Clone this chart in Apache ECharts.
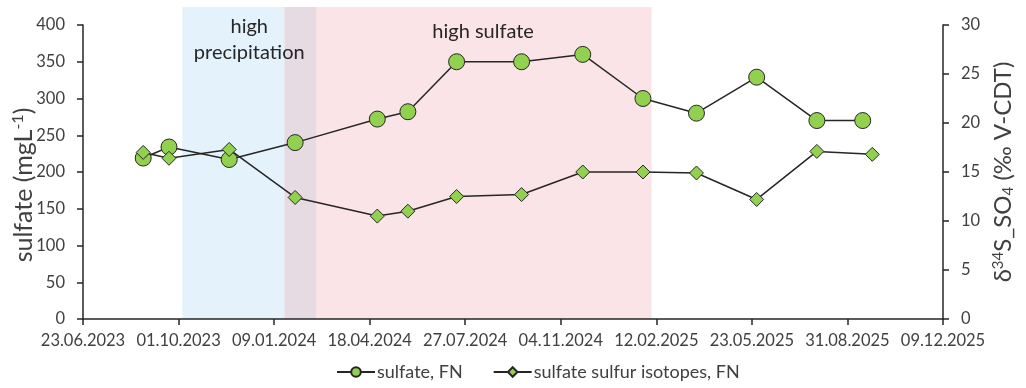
<!DOCTYPE html>
<html>
<head>
<meta charset="utf-8">
<script src="https://cdn.jsdelivr.net/npm/echarts@6/dist/echarts.min.js"></script>
<style>
  html, body { margin: 0; padding: 0; background: #fff; }
  #chart { width: 1026px; height: 388px; }
</style>
</head>
<body>
<div id="chart"></div>
<script>
// x axis: dates, ticks every 100 days starting 23.06.2023
const axisStart = '2023-06-23';
const axisDays = 900;
const tickStep = 100;

const sulfateDates = ['2023-08-25', '2023-09-21', '2023-11-23', '2024-01-31', '2024-04-26', '2024-05-28', '2024-07-18',
    '2024-09-24', '2024-11-27', '2025-01-29', '2025-03-26', '2025-05-28', '2025-07-30', '2025-09-16'];
const sulfateValues = [219, 234, 217, 240, 272, 282, 350, 350, 360, 300, 280, 329, 270, 270];

const isotopeDates = ['2023-08-25', '2023-09-21', '2023-11-23', '2024-01-31', '2024-04-26', '2024-05-28', '2024-07-18',
    '2024-09-24', '2024-11-27', '2025-01-29', '2025-03-26', '2025-05-28', '2025-07-30', '2025-09-26'];
const isotopeValues = [17.0, 16.4, 17.3, 12.4, 10.5, 11.0, 12.5, 12.7, 15.0, 15.0, 14.9, 12.2, 17.1, 16.8];

// shaded periods
const precipPeriod = ['2023-10-05', '2024-02-22'];
const overlapPeriod = ['2024-01-20', '2024-02-22'];
const sulfatePeriod = ['2024-01-20', '2025-02-07'];

const DAY = 86400000;
const toMs = s => {
    const p = s.split('-').map(Number);
    return Date.UTC(p[0], p[1] - 1, p[2]);
};
const startMs = toMs(axisStart);
const toDay = s => (toMs(s) - startMs) / DAY;
const fmtDay = v => {
    const d = new Date(startMs + v * DAY);
    const pad = n => String(n).padStart(2, '0');
    return pad(d.getUTCDate()) + '.' + pad(d.getUTCMonth() + 1) + '.' + d.getUTCFullYear();
};

const font = 'Lato';
const textColor = '#404040';
const green = '#92D050';
const dark = '#262626';

const myChart = echarts.init(document.getElementById('chart'));

const xCommon = {
    type: 'value',
    min: 0,
    max: axisDays,
    interval: tickStep,
};

myChart.setOption({
    animation: false,
    textStyle: {fontFamily: font, color: textColor},
    grid: [
        {left: 83, right: 83, top: 25, bottom: 69, outerBoundsMode: 'none', containLabel: false},
        {left: 83, right: 83, top: 7, bottom: 69, outerBoundsMode: 'none', containLabel: false}
    ],
    legend: {
        left: 331,
        bottom: 2,
        itemWidth: 38,
        itemHeight: 12,
        itemGap: 30,
        data: ['sulfate, FN', 'sulfate sulfur isotopes, FN'],
        textStyle: {fontFamily: font, fontSize: 18, color: textColor, padding: [0, 0, 0, -3]}
    },
    xAxis: [
        Object.assign({}, xCommon, {
            gridIndex: 0,
            z: 5,
            splitLine: {show: false},
            axisLine: {lineStyle: {color: dark, width: 1.5}},
            axisTick: {show: true, length: 6, lineStyle: {color: dark, width: 1.5}},
            axisLabel: {
                fontFamily: font, fontSize: 16.5, color: textColor, margin: 13,
                formatter: v => fmtDay(v)
            }
        }),
        Object.assign({}, xCommon, {
            gridIndex: 1,
            show: false
        })
    ],
    yAxis: [
        {
            type: 'value', gridIndex: 0, min: 0, max: 400, interval: 50, z: 5,
            position: 'left',
            name: 'sulfate (mgL{sup|-1})',
            nameLocation: 'middle',
            nameRotate: 90,
            nameGap: 46,
            nameMoveOverlap: false,
            nameTextStyle: {
                fontFamily: font, fontSize: 25, color: textColor, padding: [0, 26, 0, 0],
                rich: {sup: {fontFamily: font, fontSize: 16, color: textColor, verticalAlign: 'top', padding: [0, 0, 11, 0]}}
            },
            splitLine: {show: false},
            axisLine: {show: true, lineStyle: {color: dark, width: 1.5}},
            axisTick: {show: true, length: 6, lineStyle: {color: dark, width: 1.5}},
            axisLabel: {fontFamily: font, fontSize: 16.5, color: textColor, margin: 18}
        },
        {
            type: 'value', gridIndex: 0, min: 0, max: 30, interval: 5, z: 5,
            position: 'right',
            name: 'δ{sup|34}S_SO{sub|4} (‰ V-CDT)',
            nameLocation: 'middle',
            nameRotate: 90,
            nameGap: 48,
            nameTextStyle: {
                fontFamily: font, fontSize: 24, color: textColor,
                rich: {
                    sup: {fontFamily: font, fontSize: 15, color: textColor, verticalAlign: 'top', padding: [0, 0, 10, 0]},
                    sub: {fontFamily: font, fontSize: 15, color: textColor, verticalAlign: 'bottom', padding: [10, 0, 0, 0]}
                }
            },
            splitLine: {show: false},
            axisLine: {show: true, lineStyle: {color: dark, width: 1.5}},
            axisTick: {show: true, length: 6, lineStyle: {color: dark, width: 1.5}},
            axisLabel: {fontFamily: font, fontSize: 16.5, color: textColor, margin: 18}
        },
        {type: 'value', gridIndex: 1, min: 0, max: 1, show: false}
    ],
    series: [
        {
            name: 'periods',
            type: 'line',
            xAxisIndex: 1,
            yAxisIndex: 2,
            data: [],
            z: 0,
            markArea: {
                silent: true,
                z: 0,
                label: {fontFamily: font, fontSize: 20, color: dark, position: 'insideTop', lineHeight: 26},
                data: [
                    [{xAxis: toDay(precipPeriod[0]), itemStyle: {color: '#E4F3FB'},
                        label: {formatter: 'high\nprecipitation', distance: 7}},
                        {xAxis: toDay(precipPeriod[1])}],
                    [{xAxis: toDay(sulfatePeriod[0]), itemStyle: {color: '#FBE4E7'},
                        label: {formatter: 'high sulfate', offset: [15, 0], distance: 12}},
                        {xAxis: toDay(sulfatePeriod[1])}],
                    [{xAxis: toDay(overlapPeriod[0]), itemStyle: {color: '#E6DBE2'}, label: {show: false}},
                        {xAxis: toDay(overlapPeriod[1])}]
                ]
            }
        },
        {
            name: 'sulfate, FN',
            type: 'line',
            xAxisIndex: 0,
            yAxisIndex: 0,
            z: 3,
            symbol: 'circle',
            symbolSize: 16,
            lineStyle: {color: dark, width: 1.5},
            itemStyle: {color: green, borderColor: dark, borderWidth: 1},
            data: sulfateDates.map((d, i) => [toDay(d), sulfateValues[i]])
        },
        {
            name: 'sulfate sulfur isotopes, FN',
            type: 'line',
            xAxisIndex: 0,
            yAxisIndex: 1,
            z: 4,
            symbol: 'diamond',
            symbolSize: 14,
            lineStyle: {color: dark, width: 1.5},
            itemStyle: {color: green, borderColor: dark, borderWidth: 1},
            data: isotopeDates.map((d, i) => [toDay(d), isotopeValues[i]])
        }
    ]
});
</script>
</body>
</html>
